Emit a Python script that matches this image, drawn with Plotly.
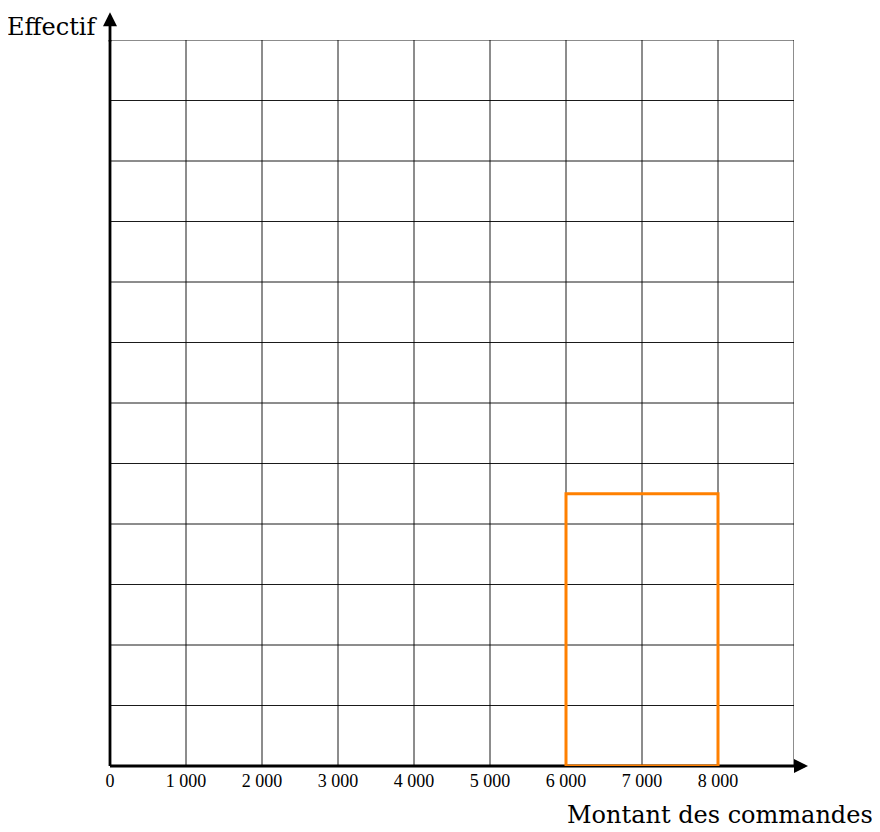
import plotly.graph_objects as go

# Data
bin_edges = [6000, 8000]
bin_height = 4.5
x_ticks = [0, 1000, 2000, 3000, 4000, 5000, 6000, 7000, 8000]
x_tick_labels = ["0", "1\u00a0000", "2\u00a0000", "3\u00a0000", "4\u00a0000",
                 "5\u00a0000", "6\u00a0000", "7\u00a0000", "8\u00a0000"]
x_grid = [0, 1000, 2000, 3000, 4000, 5000, 6000, 7000, 8000, 9000]
y_grid = [0, 1, 2, 3, 4, 5, 6, 7, 8, 9, 10, 11, 12]
x_max = 9000
y_max = 12
x_arrow_tip = 9184
y_arrow_tip = 12.46
x_label = "Montant des commandes"
y_label = "Effectif"

fig = go.Figure()

shapes = []
for gx in x_grid:
    shapes.append(dict(type="line", xref="x", yref="y", x0=gx, x1=gx, y0=0, y1=y_max,
                       line=dict(color="black", width=0.9), layer="below"))
for gy in y_grid:
    shapes.append(dict(type="line", xref="x", yref="y", x0=0, x1=x_max, y0=gy, y1=gy,
                       line=dict(color="black", width=0.9), layer="below"))
# main axes lines (paper refs on one side so they are not half-clipped)
shapes.append(dict(type="line", xref="x", yref="paper", x0=0, x1=x_max, y0=0, y1=0,
                   line=dict(color="black", width=2.8), layer="below"))
shapes.append(dict(type="line", xref="paper", yref="y", x0=0, x1=0, y0=0, y1=y_max,
                   line=dict(color="black", width=2.8), layer="below"))

x0, x1 = bin_edges
fig.add_trace(go.Scatter(
    x=[x0, x0, x1, x1, x0], y=[0, bin_height, bin_height, 0, 0],
    mode="lines", line=dict(color="#FF8000", width=3), hoverinfo="skip",
    showlegend=False, cliponaxis=False,
))

annotations = [
    dict(x=x_arrow_tip, y=0, ax=x_max - 10, ay=0, xref="x", yref="y", axref="x", ayref="y",
         text="", showarrow=True, arrowhead=2, arrowsize=1.0, arrowwidth=2.8, arrowcolor="black"),
    dict(x=0, y=y_arrow_tip, ax=0, ay=y_max - 0.05, xref="x", yref="y", axref="x", ayref="y",
         text="", showarrow=True, arrowhead=2, arrowsize=1.0, arrowwidth=2.8, arrowcolor="black"),
    dict(x=1.118, y=-0.0675, xref="paper", yref="paper", text=x_label, showarrow=False,
         xanchor="right", yanchor="middle",
         font=dict(family="DejaVu Serif", size=24, color="black")),
    dict(x=-0.0146, y=1.018, xref="paper", yref="paper", text=y_label, showarrow=False,
         xanchor="right", yanchor="middle",
         font=dict(family="DejaVu Serif", size=24, color="black")),
]

fig.update_layout(
    width=872, height=824,
    margin=dict(l=102, r=86, t=32, b=66),
    paper_bgcolor="white", plot_bgcolor="white",
    shapes=shapes, annotations=annotations,
    xaxis=dict(range=[0, x_max], showgrid=False, zeroline=False, showline=False,
               tickmode="array", tickvals=x_ticks, ticktext=x_tick_labels, ticks="",
               ticklabelstandoff=2,
               tickfont=dict(family="Liberation Serif", size=18, color="black")),
    yaxis=dict(range=[0, y_max], showgrid=False, zeroline=False, showline=False,
               showticklabels=False, ticks=""),
    showlegend=False,
)

fig.write_html("out.html")
